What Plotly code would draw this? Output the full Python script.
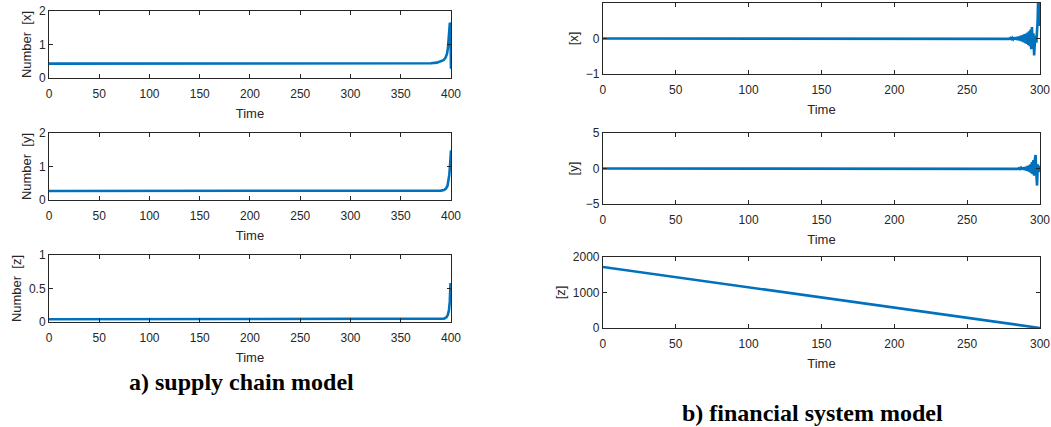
import plotly.graph_objects as go

# ---- supply chain model (time 0..400) ----
sc_t_x = [0, 300, 370, 380, 386, 390, 392.5, 394.5, 396, 397, 397.8, 398.4, 398.9, 399.3, 399.6, 399.8, 400]
sc_x = [0.43, 0.43, 0.43, 0.44, 0.46, 0.49, 0.53, 0.6, 0.72, 0.9, 1.15, 1.45, 1.65, 1.62, 1.2, 0.6, 0.28]

sc_t_y = [0, 300, 385, 390, 393, 395, 396.5, 397.5, 398.3, 399, 399.5, 400]
sc_y = [0.27, 0.27, 0.27, 0.28, 0.3, 0.34, 0.42, 0.55, 0.75, 1.0, 1.25, 1.48]

sc_t_z = [0, 300, 388, 393, 395.5, 397, 398, 398.8, 399.3, 399.6, 399.8, 400]
sc_z = [0.04, 0.04, 0.04, 0.05, 0.07, 0.11, 0.18, 0.3, 0.5, 0.58, 0.45, 0.52]

# ---- financial system model (time 0..300) ----
fs_t_x = [0, 272, 276, 277.5, 278.2, 278.9, 279.6, 280.3, 281.0, 281.6, 282.2, 282.8,
          283.4, 284.0, 284.5, 285.0, 285.5, 286.0, 286.5, 287.0, 287.5, 288.0, 288.5, 289.0,
          289.5, 290.0, 290.5, 291.0, 291.5, 292.0, 292.5, 293.0, 293.5, 294.0, 294.5, 295.0,
          295.5, 296.0, 296.5, 297.0, 297.5, 298.0, 298.4, 298.8, 299.1, 299.4, 299.7, 300]
fs_x = [0, 0, 0.005, -0.005, 0.01, -0.01, 0.015, -0.015, 0.02, -0.02, 0.025, -0.03,
        0.035, -0.04, 0.045, -0.05, 0.055, -0.06, 0.07, -0.075, 0.085, -0.09, 0.1, -0.11,
        0.12, -0.13, 0.14, -0.15, 0.17, -0.18, 0.2, -0.22, 0.25, -0.3, 0.32, -0.2,
        0.15, -0.48, -0.1, 0.08, -0.12, 0.25, 0.5, 1.2, 0.9, 0.35, 1.1, 0.35]

fs_t_y = [0, 278, 282, 283.5, 284.2, 284.9, 285.6, 286.3, 287.0, 287.6, 288.2, 288.8,
          289.4, 290.0, 290.5, 291.0, 291.5, 292.0, 292.5, 293.0, 293.5, 294.0, 294.5, 295.0,
          295.5, 296.0, 296.5, 297.0, 297.5, 298.0, 298.5, 299.0, 299.5, 300]
fs_y = [0, 0, 0.02, -0.02, 0.04, -0.05, 0.06, -0.08, 0.1, -0.12, 0.14, -0.16,
        0.19, -0.22, 0.26, -0.3, 0.35, -0.4, 0.45, -0.5, 0.6, -0.65, 0.9, -0.8,
        1.2, -1.0, 1.3, 1.9, -0.6, -2.4, 0.6, -0.5, 0.3, 0.1]

fs_t_z = [0, 300]
fs_z = [1720, 0]

BLUE = "#0072BD"
AX = "#262626"
FONT = "Liberation Sans, Arial, sans-serif"

fig = go.Figure()

panels = [
    # (t, v, xdomain, ydomain, xrange, yrange, xticks, yticks, ytitle)
    (sc_t_x, sc_x, [0.0466, 0.4291], [0.8173, 0.9742], [0, 400], [0, 2],
     list(range(0, 401, 50)), [0, 1, 2], "Number  [x]"),
    (sc_t_y, sc_y, [0.0466, 0.4291], [0.5316, 0.6885], [0, 400], [0, 2],
     list(range(0, 401, 50)), [0, 1, 2], "Number  [y]"),
    (sc_t_z, sc_z, [0.0466, 0.4291], [0.2459, 0.4028], [0, 400], [0, 1],
     list(range(0, 401, 50)), [0, 0.5, 1], "Number  [z]"),
    (fs_t_x, fs_x, [0.5737, 0.9895], [0.8267, 0.9930], [0, 300], [-1, 1],
     list(range(0, 301, 50)), [-1, 0, 1], "[x]"),
    (fs_t_y, fs_y, [0.5737, 0.9895], [0.5222, 0.6885], [0, 300], [-5, 5],
     list(range(0, 301, 50)), [-5, 0, 5], "[y]"),
    (fs_t_z, fs_z, [0.5737, 0.9895], [0.2319, 0.3981], [0, 300], [0, 2000],
     list(range(0, 301, 50)), [0, 1000, 2000], "[z]"),
]

layout = {}
for i, (t, v, xd, yd, xr, yr, xt, yt, ytitle) in enumerate(panels, start=1):
    xa = "x" if i == 1 else f"x{i}"
    ya = "y" if i == 1 else f"y{i}"
    fig.add_trace(go.Scatter(x=t, y=v, mode="lines", xaxis=xa, yaxis=ya,
                             line=dict(color=BLUE, width=2.6), showlegend=False,
                             cliponaxis=True))
    common = dict(showline=True, linecolor=AX, linewidth=1, mirror="ticks",
                  ticks="inside", ticklen=4, tickcolor=AX, showgrid=False,
                  zeroline=False, tickfont=dict(family=FONT, size=12, color=AX),
                  fixedrange=True, automargin=False)
    layout["xaxis" if i == 1 else f"xaxis{i}"] = dict(
        common, domain=xd, range=xr, tickvals=xt, anchor=ya, ticklabelstandoff=5,
        title=dict(text="Time", font=dict(family=FONT, size=13, color=AX), standoff=8))
    layout["yaxis" if i == 1 else f"yaxis{i}"] = dict(
        common, domain=yd, range=yr, tickvals=yt, anchor=xa,
        title=dict(text=ytitle, font=dict(family=FONT, size=13, color=AX), standoff=4))

fig.update_layout(
    width=1051, height=427, margin=dict(l=0, r=0, t=0, b=0, autoexpand=False),
    paper_bgcolor="white", plot_bgcolor="white", **layout,
)

CAP = dict(family="Liberation Serif, Times New Roman, serif", size=24, color="black")
fig.add_annotation(text="<b>a) supply chain model</b>", xref="paper", yref="paper",
                   x=241 / 1051, y=1 - 382 / 427, showarrow=False, font=CAP,
                   xanchor="center", yanchor="middle")
fig.add_annotation(text="<b>b) financial system model</b>", xref="paper", yref="paper",
                   x=812 / 1051, y=1 - 413 / 427, showarrow=False, font=CAP,
                   xanchor="center", yanchor="middle")

fig.write_html("out.html")
